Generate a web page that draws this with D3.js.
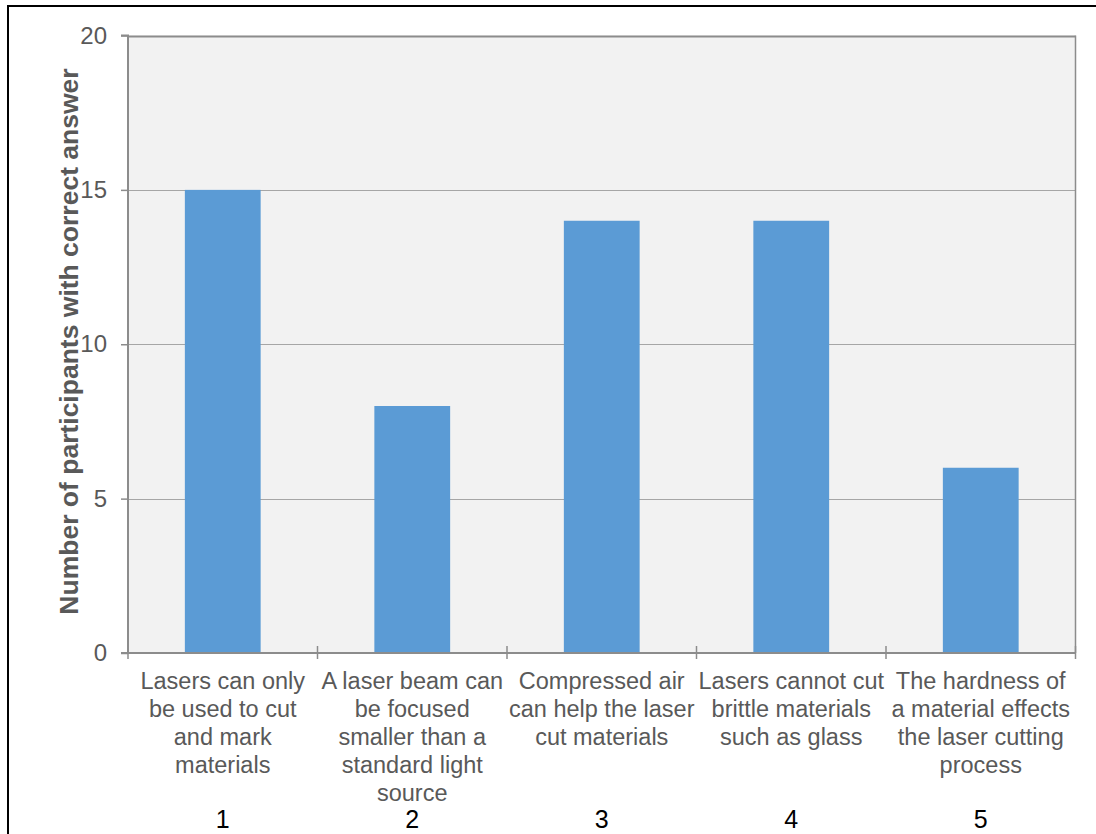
<!DOCTYPE html>
<html><head><meta charset="utf-8">
<script src="https://cdn.jsdelivr.net/npm/d3@7"></script>
<style>body{margin:0;background:#fff}svg{display:block}</style>
</head><body><svg id="c" width="1096" height="834"></svg>
<script>
const categories = ["1","2","3","4","5"];
const labels = [
  ["Lasers can only","be used to cut","and mark","materials"],
  ["A laser beam can","be focused","smaller than a","standard light","source"],
  ["Compressed air","can help the laser","cut materials"],
  ["Lasers cannot cut","brittle materials","such as glass"],
  ["The hardness of","a material effects","the laser cutting","process"]
];
const values = [15, 8, 14, 14, 6];
const yTicks = [0,5,10,15,20];
const yTitle = "Number of participants with correct answer";

const svg = d3.select("#c");
const m = {l:128, t:35.5, r:1075.5, b:653};
const FF = "Liberation Sans, Arial, sans-serif";
// outer frame
svg.append("path").attr("d","M8,834 L8,6 L1096,6").attr("fill","none").attr("stroke","#000").attr("stroke-width",2);

const x = d3.scaleBand().domain(categories).range([m.l, m.r]).paddingInner(0.6).paddingOuter(0.3);
const y = d3.scaleLinear().domain([0,20]).range([m.b, m.t]);

svg.append("rect").attr("x",m.l).attr("y",m.t).attr("width",m.r-m.l).attr("height",m.b-m.t).attr("fill","#f2f2f2");
// gridlines
svg.append("g").selectAll("line").data(yTicks.filter(d=>d>0)).join("line")
  .attr("x1",m.l).attr("x2",m.r).attr("y1",d=>Math.round(y(d))+0.5).attr("y2",d=>Math.round(y(d))+0.5)
  .attr("stroke",d=>d===20?"#8c8c8c":"#a6a6a6").attr("stroke-width",d=>d===20?2:1);
// right border
svg.append("line").attr("x1",m.r).attr("x2",m.r).attr("y1",m.t).attr("y2",m.b).attr("stroke","#8c8c8c").attr("stroke-width",1.5);

svg.append("g").selectAll("rect").data(values).join("rect")
  .attr("x",(d,i)=>x(categories[i])).attr("width",x.bandwidth())
  .attr("y",d=>y(d)).attr("height",d=>y(0)-y(d)).attr("fill","#5b9bd5");

// y axis
const ya = svg.append("g").attr("transform",`translate(${m.l},0)`)
  .call(d3.axisLeft(y).tickValues(yTicks).tickSize(7).tickPadding(14));
ya.select(".domain").attr("stroke","#8c8c8c").attr("stroke-width",2).attr("d",`M-7,${y(20)}H0V${y(0)}`);
ya.selectAll(".tick line").attr("stroke","#8c8c8c").attr("stroke-width",1.5);
ya.selectAll(".tick text").attr("fill","#595959").attr("font-family",FF).attr("font-size",24);

// x axis
const step = x.step();
const bounds = d3.range(6).map(i=>m.l + i*step);
svg.append("line").attr("x1",m.l-7).attr("x2",m.r).attr("y1",m.b).attr("y2",m.b).attr("stroke","#8c8c8c").attr("stroke-width",2);
svg.append("g").selectAll("line").data(bounds).join("line")
  .attr("x1",d=>d).attr("x2",d=>d).attr("y1",m.b-7).attr("y2",m.b+6).attr("stroke","#8c8c8c").attr("stroke-width",1.5);

const lg = svg.append("g").attr("font-family",FF);
labels.forEach((lines,i)=>{
  const cx = x(categories[i]) + x.bandwidth()/2;
  const t = lg.append("text").attr("text-anchor","middle").attr("fill","#595959").attr("font-size",23.5);
  lines.forEach((s,j)=>t.append("tspan").attr("x",cx).attr("y",689+j*28).text(s));
  lg.append("text").attr("x",cx).attr("y",828).attr("text-anchor","middle").attr("fill","#000").attr("font-size",25).text(categories[i]);
});

svg.append("text").attr("transform",`translate(78,${(63+620)/2}) rotate(-90)`)
  .attr("text-anchor","middle").attr("font-family",FF)
  .attr("font-weight","bold").attr("font-size",26.5).attr("fill","#595959").text(yTitle);
</script></body></html>
